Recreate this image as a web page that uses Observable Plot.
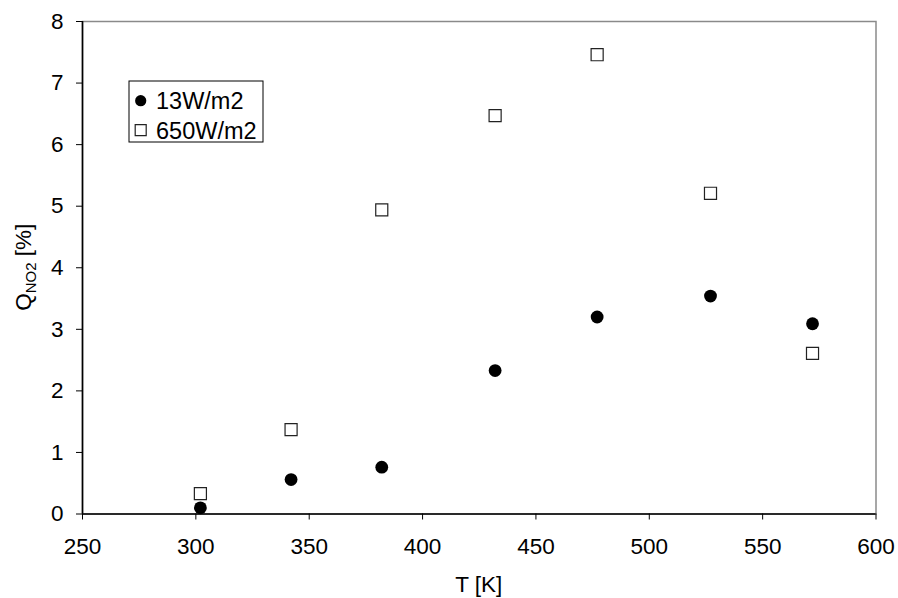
<!DOCTYPE html>
<html><head><meta charset="utf-8">
<script src="https://cdn.jsdelivr.net/npm/d3@7"></script>
<script src="https://cdn.jsdelivr.net/npm/@observablehq/plot@0.6"></script>
<style>
body{margin:0;background:#fff}
#chart{width:898px;height:598px}
</style>
</head><body><div id="chart"></div>
<script>
// ---- data ----
const temperatures = [302, 342, 382, 432, 477, 527, 572];
const q13 = [0.10, 0.56, 0.76, 2.33, 3.20, 3.54, 3.09];
const q650 = [0.33, 1.37, 4.94, 6.47, 7.46, 5.21, 2.61];
const seriesNames = ["13W/m2", "650W/m2"];
const xTicks = [250, 300, 350, 400, 450, 500, 550, 600];
const yTicks = [0, 1, 2, 3, 4, 5, 6, 7, 8];
const xTitle = "T [K]";
const yTitleMain = "Q";
const yTitleSub = "NO2";
const yTitleUnit = " [%]";

const rows13 = temperatures.map((t, i) => ({T: t, Q: q13[i], series: seriesNames[0]}));
const rows650 = temperatures.map((t, i) => ({T: t, Q: q650[i], series: seriesNames[1]}));

const FONT = "'Liberation Sans', Arial, sans-serif";
const FS = 22.5;
const W = 898, H = 598;
const mL = 82, mR = 22.5, mT = 21, mB = 84.5;

const chart = Plot.plot({
  width: W, height: H,
  marginLeft: mL, marginRight: mR, marginTop: mT, marginBottom: mB,
  style: {fontFamily: FONT, fontSize: FS + "px", background: "#fff", color: "#000"},
  x: {domain: [250, 600]},
  y: {domain: [0, 8]},
  marks: [
    Plot.frame({stroke: "#8a8a8a", strokeWidth: 1.5}),
    Plot.ruleX([xTicks[0]], {stroke: "#000", strokeWidth: 1.6}),
    Plot.ruleY([yTicks[0]], {stroke: "#000", strokeWidth: 1.6}),
    Plot.axisX({ticks: xTicks, tickSize: 6, tickPadding: 18, fontSize: FS, label: null, tickFormat: d => String(d)}),
    Plot.axisY({ticks: yTicks, tickSize: 6, tickPadding: 13, fontSize: FS, label: null, tickFormat: d => String(d)}),
    Plot.dot(rows650, {x: "T", y: "Q", symbol: "square", r: 6.8, fill: "#fff", stroke: "#222", strokeWidth: 1.2}),
    Plot.dot(rows13, {x: "T", y: "Q", symbol: "circle", r: 6.4, fill: "#000", stroke: "none"})
  ]
});
document.getElementById("chart").appendChild(chart);

const svg = d3.select(chart);
// x title
svg.append("text")
  .attr("x", mL + (W - mL - mR) / 2).attr("y", 592)
  .attr("text-anchor", "middle")
  .style("font-family", FONT).style("font-size", FS + "px").attr("fill", "#000")
  .text(xTitle);
// y title with subscript
const yt = svg.append("text")
  .attr("transform", `translate(31,${mT + (H - mT - mB) / 2}) rotate(-90)`)
  .attr("text-anchor", "middle")
  .style("font-family", FONT).style("font-size", FS + "px").attr("fill", "#000");
yt.append("tspan").text(yTitleMain);
yt.append("tspan").attr("dy", 5).style("font-size", "15px").text(yTitleSub);
yt.append("tspan").attr("dy", -5).text(yTitleUnit);

// legend
const lg = svg.append("g").attr("text-anchor", "start");
lg.append("rect").attr("x", 129).attr("y", 81).attr("width", 134).attr("height", 61)
  .attr("fill", "#fff").attr("stroke", "#000").attr("stroke-width", 1);
const items = [
  {name: seriesNames[0], sym: d3.symbolCircle, fill: "#000", stroke: "none", size: Math.PI * 5.6 * 5.6},
  {name: seriesNames[1], sym: d3.symbolSquare, fill: "#fff", stroke: "#222", size: 11 * 11}
];
items.forEach((it, i) => {
  const cy = 100.7 + i * 29.5;
  lg.append("path").attr("transform", `translate(140.7,${cy})`)
    .attr("d", d3.symbol(it.sym, it.size)())
    .attr("fill", it.fill).attr("stroke", it.stroke).attr("stroke-width", 1.2);
  lg.append("text").attr("x", 156).attr("y", cy).attr("dy", "0.36em")
    .attr("text-anchor", "start")
    .style("font-family", FONT).style("font-size", "23.5px").attr("fill", "#000")
    .text(it.name);
});
</script>
</body></html>
